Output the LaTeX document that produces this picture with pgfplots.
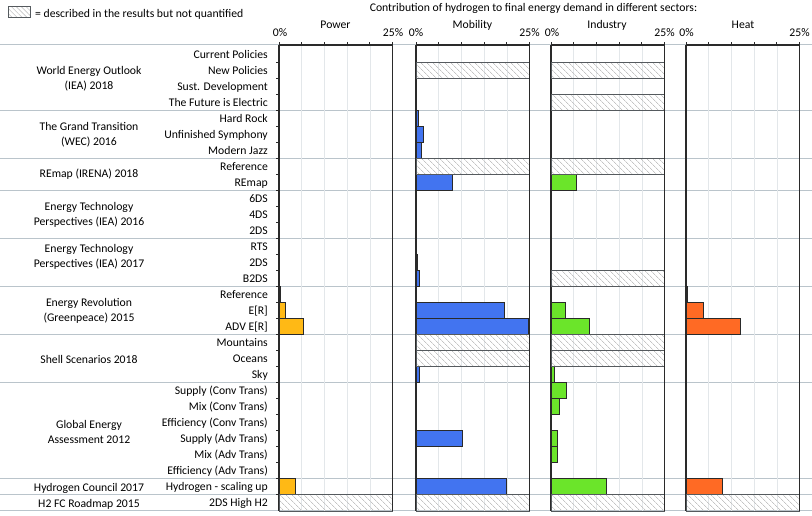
\documentclass[border=0pt]{standalone}
\usepackage{fontspec}
\setmainfont{Carlito}
\usepackage{pgfplots}
\pgfplotsset{compat=1.18}
\usetikzlibrary{patterns.meta}

\definecolor{cpow}{HTML}{FFB915}
\definecolor{cmob}{HTML}{4274F0}
\definecolor{cind}{HTML}{6BE52A}
\definecolor{cheat}{HTML}{FF6A24}
\definecolor{sepc}{HTML}{BAC4CB}
\definecolor{gridc}{HTML}{E3E7EA}
\definecolor{hatchc}{HTML}{C4C4C4}
\definecolor{axc}{HTML}{2A2A2A}
\definecolor{hbord}{HTML}{555A5E}

\pgfplotsset{
  panel/.style={
    xbar, bar width=1, scale only axis, width=113.5pt, height=465.9pt,
    xmin=0, xmax=25, ymin=-0.5, ymax=28.6,
    axis x line*=top, axis y line*=left,
    axis line style={axc, line width=1.1pt},
    xtick={0,5,10,15,20,25}, xticklabels={},
    xmajorgrids, grid style={gridc, line width=0.6pt},
    tick style={axc, line width=0.8pt}, major tick length=3pt, tick align=outside,
    ytick=\empty,
    anchor=north west, clip=false,
  },
  colbar/.style={bar shift=0pt, draw=axc, line width=0.8pt, fill=#1},
  hatchbar/.style={bar shift=0pt, draw=hbord, line width=0.8pt,
    pattern={Lines[angle=-45,distance=4pt,line width=0.7pt]}, pattern color=hatchc},
}

\newcommand\lab[2]{\node[anchor=base east, inner sep=0pt] at (268, {-45-(0.6+#1)*16.01-3.9}) {#2};}
\newcommand\grp[2]{\node[align=center, inner sep=0pt, font=\fontsize{11.7}{15}\selectfont] at (89, {-#1}) {#2};}

\begin{document}
\begin{tikzpicture}[x=1pt, y=1pt, font=\fontsize{11.7}{14}\selectfont]
\useasboundingbox (0,0) rectangle (812,-515);

% group separators
\foreach \yy in {44.7,110.6,158.7,190.7,238.7,286.7,334.8,382.8,478.9,494.9,510.9}
  \draw[sepc, line width=1pt] (0,-\yy) -- (812,-\yy);

% legend and title
\draw[draw=hbord, line width=0.6pt, pattern={Lines[angle=-45,distance=3.5pt,line width=0.6pt]}, pattern color=hatchc] (8,-6.5) rectangle (30.5,-17.5);
\node[anchor=base west, inner sep=0pt] at (35,-17) {= described in the results but not quantified};
\node[anchor=base, inner sep=0pt] at (533.5,-11.5) {Contribution of hydrogen to final energy demand in different sectors:};

% panel titles and tick labels
\node[anchor=base, inner sep=0pt] at (335.5,-28.5) {Power};
\node[anchor=base, inner sep=0pt] at (472.5,-28.5) {Mobility};
\node[anchor=base, inner sep=0pt] at (607,-28.5) {Industry};
\node[anchor=base, inner sep=0pt] at (743,-28.5) {Heat};
\foreach \xx in {280,416,552,686.5}
  \node[anchor=base, inner sep=0pt] at (\xx,-36.5) {0\%};
\foreach \xx in {393,529.5,664.5,799.5}
  \node[anchor=base, inner sep=0pt] at (\xx,-36.5) {25\%};

% scenario labels
\lab{0}{Current Policies}
\lab{1}{New Policies}
\lab{2}{Sust. Development}
\lab{3}{The Future is Electric}
\lab{4}{Hard Rock}
\lab{5}{Unfinished Symphony}
\lab{6}{Modern Jazz}
\lab{7}{Reference}
\lab{8}{REmap}
\lab{9}{6DS}
\lab{10}{4DS}
\lab{11}{2DS}
\lab{12}{RTS}
\lab{13}{2DS}
\lab{14}{B2DS}
\lab{15}{Reference}
\lab{16}{E[R]}
\lab{17}{ADV E[R]}
\lab{18}{Mountains}
\lab{19}{Oceans}
\lab{20}{Sky}
\lab{21}{Supply (Conv Trans)}
\lab{22}{Mix (Conv Trans)}
\lab{23}{Efficiency (Conv Trans)}
\lab{24}{Supply (Adv Trans)}
\lab{25}{Mix (Adv Trans)}
\lab{26}{Efficiency (Adv Trans)}
\lab{27}{Hydrogen - scaling up}
\lab{28}{2DS High H2}

% group labels
\grp{78.6}{World Energy Outlook\\(IEA) 2018}
\grp{134.7}{The Grand Transition\\(WEC) 2016}
\grp{174.2}{REmap (IRENA) 2018}
\grp{214.7}{Energy Technology\\Perspectives (IEA) 2016}
\grp{256.5}{Energy Technology\\Perspectives (IEA) 2017}
\grp{310.8}{Energy Revolution\\(Greenpeace) 2015}
\grp{359.3}{Shell Scenarios 2018}
\grp{432}{Global Energy\\Assessment 2012}
\grp{488.5}{Hydrogen Council 2017}
\grp{504}{H2 FC Roadmap 2015}

% Power
\begin{axis}[panel, at={(279pt,-45pt)}, ytick={0.5,1.5,...,27.5}, yticklabels={}]
\addplot[colbar=cpow] coordinates {(0.2,13) (1.5,12) (5.4,11) (3.6,1)};
\addplot[hatchbar] coordinates {(25,0)};
\draw[axc, line width=1.1pt] (axis cs:25,-0.5) -- (axis cs:25,28.6);
\end{axis}

% Mobility
\begin{axis}[panel, at={(416pt,-45pt)}]
\addplot[colbar=cmob] coordinates {(0.5,24) (1.7,23) (1.1,22) (8.1,20) (0.1,18) (0.1,17) (0.1,16) (0.2,15) (0.7,14) (19.4,12) (24.8,11) (0.7,8) (10.3,4) (19.9,1)};
\addplot[hatchbar] coordinates {(25,27) (25,21) (25,10) (25,9) (25,0)};
\draw[axc, line width=1.1pt] (axis cs:25,-0.5) -- (axis cs:25,28.6);
\end{axis}

% Industry
\begin{axis}[panel, at={(551pt,-45pt)}]
\addplot[colbar=cind] coordinates {(5.6,20) (3.2,12) (8.4,11) (0.7,8) (3.3,7) (1.8,6) (1.5,4) (1.3,3) (12.1,1)};
\addplot[hatchbar] coordinates {(25,27) (25,25) (25,21) (25,14) (25,10) (25,9) (25,0)};
\draw[axc, line width=1.1pt] (axis cs:25,-0.5) -- (axis cs:25,28.6);
\end{axis}

% Heat
\begin{axis}[panel, at={(686pt,-45pt)}]
\addplot[colbar=cheat] coordinates {(0.2,13) (3.8,12) (11.9,11) (8.0,1)};
\addplot[hatchbar] coordinates {(25,0)};
\draw[axc, line width=1.1pt] (axis cs:25,-0.5) -- (axis cs:25,28.6);
\end{axis}
\end{tikzpicture}
\end{document}
